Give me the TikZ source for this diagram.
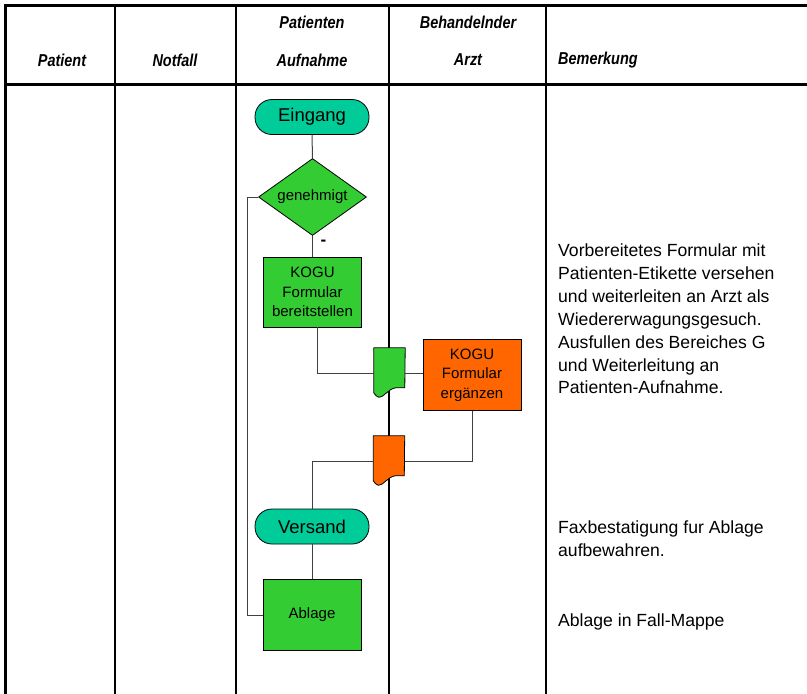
\documentclass[tikz,border=0pt]{standalone}
\usepackage{fontspec}
\setmainfont{Liberation Sans}
\newfontfamily\hdrfont[FakeStretch=0.84]{Liberation Sans}
\usetikzlibrary{shapes.geometric,calc}
\definecolor{tealfill}{HTML}{00CC99}
\definecolor{grnfill}{HTML}{33CC33}
\definecolor{orgfill}{HTML}{FF6600}
\newcommand\docsh[2]{%
  \filldraw[fill=#2, line width=0.8pt, line join=round]
    (#1.north west) -- (#1.north east) -- ($(#1.north west)+(31,40)$)
    -- ($(#1.north west)+(22,40)$)
    .. controls ($(#1.north west)+(14,41)$) and ($(#1.north west)+(10,50)$) .. ($(#1.north west)+(5,49.5)$)
    .. controls ($(#1.north west)+(3,49)$) and ($(#1.north west)+(1,47)$) .. ($(#1.north west)+(0,45)$)
    -- cycle;}
\begin{document}
\begin{tikzpicture}[x=1pt,y=-1pt,
  gridline/.style={line width=2pt, black},
  frameline/.style={line width=3.5pt, black},
  hdr/.style={font=\hdrfont\fontsize{17.2}{18}\selectfont\bfseries\itshape, inner sep=0},
  term/.style={draw, line width=0.8pt, fill=tealfill, rounded corners=17pt, minimum width=114pt, minimum height=35pt, inner sep=0, font=\fontsize{18.5}{20}\selectfont},
  proc/.style={draw, line width=0.8pt, minimum width=98pt, minimum height=71pt, inner sep=0, align=center, font=\fontsize{15}{19.5}\selectfont},
  conn/.style={line width=1pt, black!75},
  rem/.style={anchor=base west, inner sep=0, align=left, font=\fontsize{17.6}{22.8}\selectfont},
  docbox/.style={minimum width=31pt, minimum height=50pt, inner sep=0},
]
\useasboundingbox (0,0) rectangle (807,694);
% table frame
\draw[frameline] (4,5.5) -- (807,5.5);
\draw[frameline] (5.5,4) -- (5.5,694);
\draw[line width=2.5pt] (4,84.5) -- (807,84.5);
\foreach \cx in {114.5,235.5,389,545.5}
  \draw[gridline] (\cx,5.5) -- (\cx,694);
% headers
\node[hdr] (hpat) at (62,60) {Patient};
\node[hdr] (hnot) at (175,60) {Notfall};
\node[hdr] (hpa1) at (312,22) {Patienten};
\node[hdr] (hpa2) at (312,60) {Aufnahme};
\node[hdr] (hba1) at (468,22) {Behandelnder};
\node[hdr] (hba2) at (468,60) {Arzt};
\node[hdr, anchor=west] (hbem) at (558,60) {Bemerkung};
% nodes
\node[term] (ein) at (312,117) {Eingang};
\node[diamond, draw, line width=0.8pt, fill=grnfill, aspect=1.4, minimum width=108pt, minimum height=77pt, inner sep=0, font=\fontsize{15}{16}\selectfont] (dia) at (312.5,197) {genehmigt};
\node[font=\fontsize{17}{17}\selectfont\bfseries, inner sep=0] (minus) at (323.5,243) {-};
\node[proc, fill=grnfill, minimum height=70pt] (bereit) at (312.5,292) {KOGU\\Formular\\bereitstellen};
\node[docbox] (d1) at (389.5,373) {};
\docsh{d1}{grnfill}
\node[proc, fill=orgfill] (erg) at (472,375) {KOGU\\Formular\\ergänzen};
\node[docbox] (d2) at (389,461) {};
\docsh{d2}{orgfill}
\node[term] (vers) at (312,526.5) {Versand};
\node[proc, fill=grnfill] (abl) at (312,615) {Ablage};
% connectors
\draw[conn] (ein.south) -- (dia.north);
\draw[conn] (dia.south) -- (bereit.north);
\draw[conn] (dia.west) -- ++(-11,0) |- (abl.west);
\draw[conn] ([xshift=4.5pt]bereit.south) |- (d1.west);
\draw[conn] (d1.east) -- (d1.east -| erg.west);
\draw[conn] (erg.south) |- (d2.east);
\draw[conn] (d2.west) -| (vers.north);
\draw[conn] (vers.south) -- (abl.north);
% remarks (anchor = baseline of the last line)
\node[rem] (r1) at (558,325.1) {Vorbereitetes Formular mit\\Patienten-Etikette versehen\\und weiterleiten an Arzt als\\Wiedererwagungsgesuch.};
\node[rem] (r2) at (558,393.9) {Ausfullen des Bereiches G\\und Weiterleitung an\\Patienten-Aufnahme.};
\node[rem] (r3) at (558,556.1) {Faxbestatigung fur Ablage\\aufbewahren.};
\node[rem] (r4) at (558,626.7) {Ablage in Fall-Mappe};
\end{tikzpicture}
\end{document}
